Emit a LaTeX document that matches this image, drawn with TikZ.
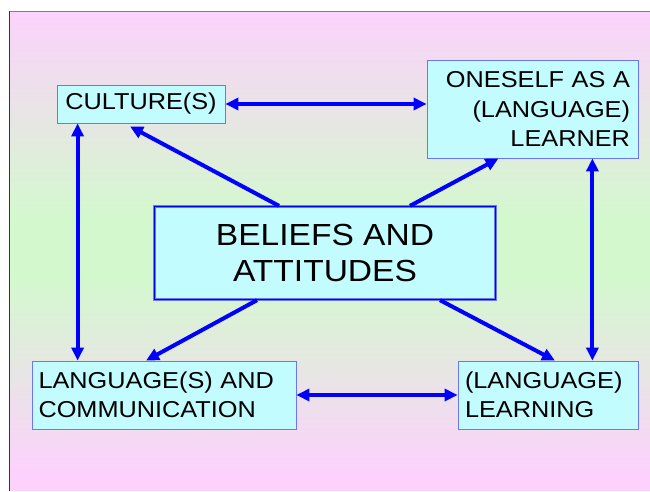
\documentclass[tikz,border=0pt]{standalone}
\usepackage{fontspec}
\setmainfont[FakeStretch=1.1]{Liberation Sans}
\usetikzlibrary{arrows.meta}
\definecolor{slidepink}{HTML}{FCD2FC}
\definecolor{slidegreen}{HTML}{D4F8CE}
\definecolor{boxfill}{HTML}{C2FCFE}
\definecolor{boxline}{HTML}{6A78F2}
\definecolor{linkblue}{HTML}{0000FF}

\begin{document}
\begin{tikzpicture}[x=1pt,y=-1pt,
  box/.style={draw=boxline,fill=boxfill,line width=0.8pt,inner ysep=0pt,
              font=\fontsize{23}{29.5}\selectfont},
  link/.style={draw=linkblue,line width=4pt,-{Triangle[length=13pt,width=12pt]}},
  both/.style={link,{Triangle[length=13pt,width=12pt]}-{Triangle[length=13pt,width=12pt]}}]
\useasboundingbox (0,0) rectangle (650,491);
%\draw[step=50,gray,very thin] (0,0) grid (650,491);
% slide background
\fill[white] (0,0) rectangle (650,491);
\shade[top color=slidepink,bottom color=slidegreen] (9,11) rectangle (650,215);
\fill[slidegreen] (9,215) rectangle (650,280);
\shade[top color=slidegreen,bottom color=slidepink] (9,280) rectangle (650,470);
\fill[slidepink] (9,470) rectangle (650,491);
\draw[gray,line width=1pt] (9,11) -- (650,11);
\draw[black!80,line width=1pt] (9,11) -- (9,491);

% boxes
\node[box,minimum width=168,minimum height=38] (culture) at (141,104) {CULTURE(S)};
\node[box,minimum width=211,minimum height=98,text width=195,align=right,inner xsep=8]
  (oneself) at (532.5,109) {ONESELF AS A\\(LANGUAGE)\\LEARNER};
\node[box,minimum width=264,minimum height=68,text width=251,align=left,inner xsep=6.5]
  (language) at (164,395) {LANGUAGE(S) AND\\COMMUNICATION};
\node[box,minimum width=180,minimum height=68,text width=166,align=left,inner xsep=7]
  (learning) at (548,395) {(LANGUAGE)\\LEARNING};
\node[box,draw=boxline,line width=1.3pt,double=linkblue,double distance=1pt,
  minimum width=341,minimum height=93,align=center,font=\fontsize{30.5}{36.5}\selectfont]
  (beliefs) at (325,253) {BELIEFS AND\\ATTITUDES};

% links between the four areas
\draw[both] (culture.east) -- (culture.east -| oneself.west);
\draw[both] ([xshift=21pt]culture.south west) -- ([xshift=21pt]culture.south west |- language.north);
\draw[both] ([xshift=-46pt]oneself.south east) -- ([xshift=-46pt]learning.north east);
\draw[both] (language.east) -- (learning.west);

% links from the centre
\draw[link] ([xshift=-46pt]beliefs.north) -- ([xshift=-11pt,yshift=-3pt]culture.south);
\draw[link] ([xshift=85pt]beliefs.north) -- ([xshift=-34pt]oneself.south);
\draw[link] ([xshift=-68pt]beliefs.south) -- ([xshift=-18pt]language.north);
\draw[link] ([xshift=115pt]beliefs.south) -- ([xshift=7pt]learning.north);
\end{tikzpicture}
\end{document}
